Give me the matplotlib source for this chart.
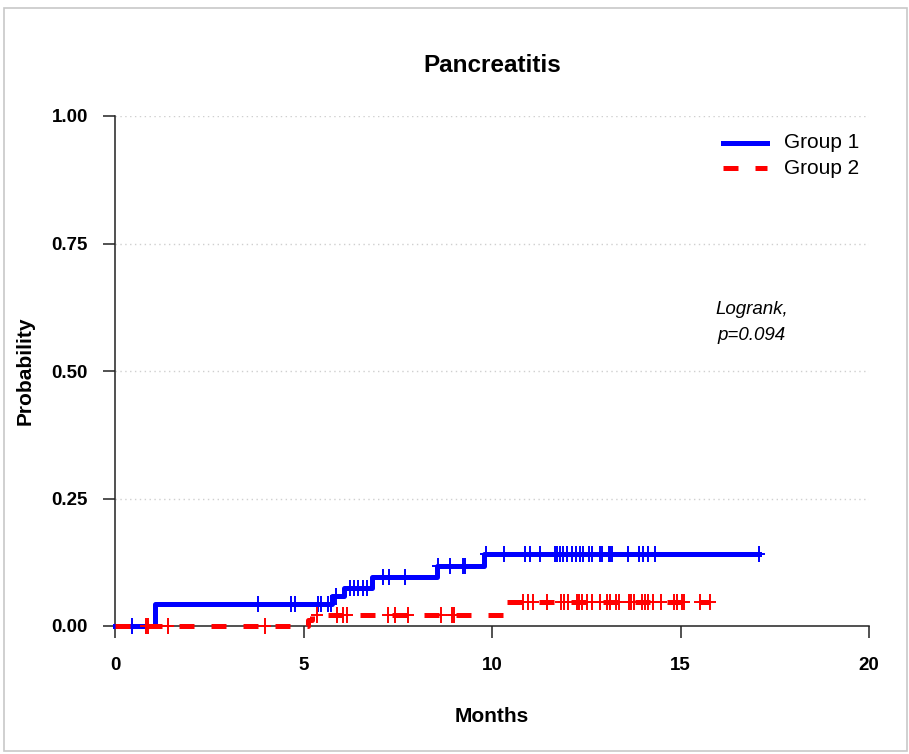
import numpy as np
import matplotlib.pyplot as plt
from matplotlib.lines import Line2D
from matplotlib.path import Path
from matplotlib.patches import Rectangle

plt.rcParams['font.family'] = ['Liberation Sans', 'DejaVu Sans']

# cumulative incidence steps (time in months, level after the step)
g1_times = [0, 1.06, 5.76, 6.08, 6.81, 8.54, 9.80, 17.08]
g1_levels = [0, 0.044, 0.059, 0.075, 0.096, 0.118, 0.141, 0.141]
g1_censor = [0.44, 3.80, 4.68, 4.77, 5.39, 5.47, 5.66, 5.72, 5.86, 6.23, 6.34,
             6.45, 6.57, 6.68, 7.12, 7.26, 7.69, 8.57, 8.89, 9.22, 9.29, 9.83,
             10.32, 10.88, 11.02, 11.27, 11.68, 11.72, 11.81, 11.89, 12.00,
             12.11, 12.23, 12.33, 12.42, 12.56, 12.64, 12.86, 12.91, 13.10,
             13.14, 13.17, 13.62, 13.90, 14.00, 14.13, 14.32, 17.08]

g2_times = [0, 5.12, 5.22, 10.39, 15.78]
g2_levels = [0, 0.011, 0.022, 0.047, 0.047]
g2_censor = [0.82, 0.87, 1.41, 3.98, 5.35, 5.90, 6.06, 6.15, 7.25, 7.43, 7.78,
             8.64, 8.93, 9.00, 10.83, 10.96, 11.10, 11.47, 11.82, 11.91, 12.02,
             12.26, 12.32, 12.38, 12.51, 12.64, 12.86, 13.04, 13.13, 13.30,
             13.37, 13.64, 13.70, 13.77, 13.97, 14.06, 14.15, 14.28, 14.48,
             14.84, 14.90, 15.03, 15.10, 15.52, 15.78]

yticks = [0, 0.25, 0.5, 0.75, 1.0]
xticks = [0, 5, 10, 15, 20]

# censor mark: a plus that is taller than it is wide
plus = Path([(-0.75, 0), (0.75, 0), (0, -1), (0, 1)],
            [Path.MOVETO, Path.LINETO, Path.MOVETO, Path.LINETO])


def level_at(times, levels, t):
    idx = np.searchsorted(times, t, side='right') - 1
    return np.asarray(levels)[idx]


fig = plt.figure(figsize=(9.09, 7.54), dpi=100)
ax = fig.add_axes([115 / 909, 1 - 626 / 754, 754 / 909, 510 / 754])

for y in yticks[1:]:
    ax.axhline(y, color='#cfcfcf', lw=1, ls=(0, (1, 2.5)), zorder=0)

ax.step(g1_times, g1_levels, where='post', color='#0000ff', lw=3.6,
        clip_on=False, zorder=3)
ax.plot(g1_censor, level_at(g1_times, g1_levels, g1_censor), ls='none',
        marker=plus, ms=11.5, mew=1.4, color='#0000ff', clip_on=False, zorder=3)

ax.step(g2_times, g2_levels, where='post', color='#ff0000', lw=3.6,
        dashes=(3, 3.4), clip_on=False, zorder=4)
ax.plot(g2_censor, level_at(g2_times, g2_levels, g2_censor), ls='none',
        marker=plus, ms=11.5, mew=1.4, color='#ff0000', clip_on=False, zorder=4)

ax.set_xlim(0, 20)
ax.set_ylim(0, 1)
ax.set_xticks(xticks)
ax.set_yticks(yticks)
ax.set_yticklabels(['%.2f' % v for v in yticks])
for s in ['top', 'right']:
    ax.spines[s].set_visible(False)
for s in ['left', 'bottom']:
    ax.spines[s].set_color('#222222')
    ax.spines[s].set_linewidth(1.1)
ax.tick_params(axis='both', length=8.5, width=1.1, color='#222222',
               labelsize=13.5)
ax.tick_params(axis='x', pad=14)
ax.tick_params(axis='y', pad=11)
for lab in ax.get_xticklabels() + ax.get_yticklabels():
    lab.set_fontweight('bold')

fig.text(492 / 909, 1 - 65 / 754, 'Pancreatitis', ha='center', va='center',
         fontsize=17.5, fontweight='bold')
fig.text(492 / 909, 1 - 717 / 754, 'Months', ha='center', va='center',
         fontsize=15, fontweight='bold')
fig.text(25 / 909, 1 - 371 / 754, 'Probability', ha='center', va='center',
         rotation=90, fontsize=15, fontweight='bold')

# legend
for yy, col, dash in [(143, '#0000ff', None), (168, '#ff0000', (3, 3.4))]:
    ln = Line2D([723 / 909, 767 / 909], [1 - yy / 754] * 2, color=col, lw=3.6,
                transform=fig.transFigure)
    if dash:
        ln.set_dashes(dash)
    fig.add_artist(ln)
fig.text(784 / 909, 1 - 143 / 754, 'Group 1', va='center', fontsize=15)
fig.text(784 / 909, 1 - 168 / 754, 'Group 2', va='center', fontsize=15)

fig.text(752 / 909, 1 - 310 / 754, 'Logrank,', ha='center', va='center',
         fontsize=13.5, style='italic')
fig.text(752 / 909, 1 - 335 / 754, 'p=0.094', ha='center', va='center',
         fontsize=13.5, style='italic')

fig.add_artist(Rectangle((4 / 909, 1 - 751 / 754), 903 / 909, 743 / 754,
                         fill=False, ec='#c8c8c8', lw=1.2,
                         transform=fig.transFigure))

fig.savefig('out.png', dpi=100)
